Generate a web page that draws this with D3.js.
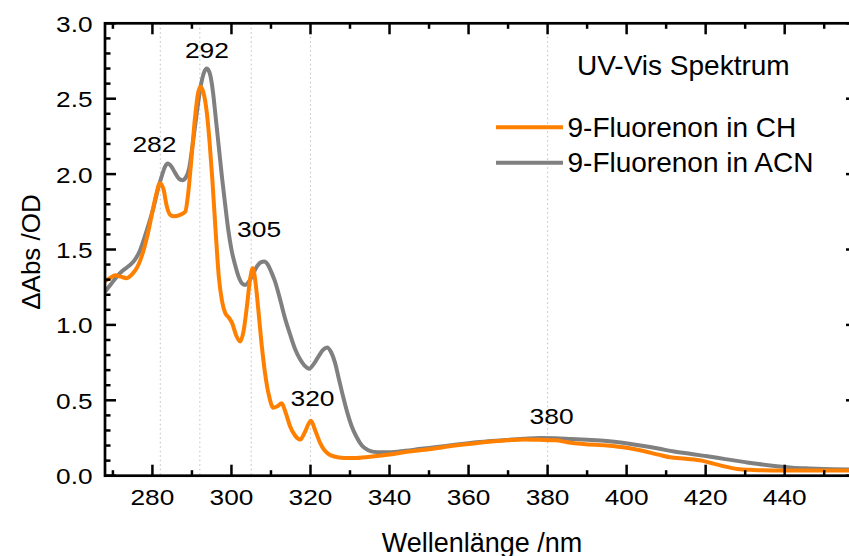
<!DOCTYPE html>
<html>
<head>
<meta charset="utf-8">
<script src="https://cdn.jsdelivr.net/npm/d3@7"></script>
<style>
  html, body { margin: 0; padding: 0; background: #fff; overflow: hidden; }
  svg { display: block; font-family: "Liberation Sans", Arial, sans-serif; }
</style>
</head>
<body>
<svg id="chart" width="849" height="556"></svg>
<script>
// ---- data ----
const wavelengthsCH = [268.0,269.2,270.6,272.0,273.5,275.0,276.3,277.6,278.8,280.0,281.0,281.9,282.8,283.6,284.5,285.5,287.0,288.3,289.0,289.8,290.8,291.5,292.1,292.8,293.8,294.5,295.2,296.0,296.8,297.6,298.4,299.3,300.2,301.2,302.2,303.0,303.9,304.7,305.4,306.1,306.8,307.6,308.5,309.5,310.6,311.6,312.7,313.7,314.8,316.0,317.4,318.6,320.1,321.2,322.4,323.5,324.5,326.0,328.5,331.0,335.0,340.0,345.0,350.0,356.6,360.0,365.0,370.0,374.0,378.0,382.0,385.0,389.0,395.0,400.0,404.0,408.0,411.0,415.0,419.0,422.0,425.0,428.0,432.0,437.0,442.0,450.0,458.3];
const absCH = [1.29,1.31,1.33,1.32,1.31,1.34,1.39,1.48,1.60,1.75,1.87,1.94,1.90,1.79,1.73,1.72,1.73,1.75,1.86,2.08,2.38,2.53,2.58,2.55,2.40,2.20,1.95,1.62,1.32,1.16,1.08,1.05,1.01,0.93,0.89,0.95,1.12,1.30,1.375,1.28,1.10,0.88,0.68,0.53,0.45,0.46,0.48,0.42,0.33,0.27,0.24,0.29,0.365,0.30,0.22,0.17,0.145,0.127,0.118,0.117,0.125,0.14,0.16,0.175,0.20,0.21,0.225,0.235,0.24,0.238,0.235,0.222,0.21,0.20,0.185,0.165,0.14,0.122,0.112,0.10,0.08,0.06,0.045,0.038,0.035,0.035,0.035,0.035];

const wavelengthsACN = [268.0,269.5,271.0,272.5,274.0,275.5,276.8,278.0,279.2,280.3,281.4,282.4,283.2,283.9,284.8,285.7,286.7,287.6,288.5,289.3,290.2,291.2,292.2,293.0,293.8,294.6,295.3,296.0,296.8,297.6,298.4,299.2,300.0,300.9,301.8,302.7,303.5,304.5,305.5,306.5,307.4,308.3,309.2,310.1,311.0,312.3,313.6,314.8,316.1,317.4,318.5,319.7,320.8,322.0,323.2,324.2,325.2,326.2,327.2,328.3,329.3,330.4,331.6,333.0,334.5,336.0,338.0,340.0,344.0,348.0,352.0,356.6,360.0,365.0,369.4,374.0,378.0,382.0,386.0,390.0,395.0,399.0,403.5,408.0,412.0,416.4,420.0,425.0,430.0,433.4,438.0,442.0,446.2,452.0,458.3];
const absACN = [1.22,1.27,1.32,1.36,1.39,1.43,1.49,1.58,1.68,1.78,1.90,1.99,2.05,2.07,2.05,2.01,1.97,1.96,1.98,2.04,2.20,2.40,2.58,2.67,2.70,2.66,2.55,2.38,2.18,1.98,1.80,1.63,1.50,1.40,1.32,1.275,1.265,1.29,1.34,1.39,1.415,1.42,1.40,1.35,1.29,1.17,1.04,0.94,0.84,0.77,0.73,0.71,0.74,0.79,0.835,0.85,0.82,0.75,0.64,0.52,0.42,0.33,0.26,0.20,0.17,0.158,0.155,0.155,0.165,0.178,0.19,0.205,0.215,0.228,0.237,0.245,0.25,0.248,0.243,0.238,0.23,0.218,0.20,0.18,0.16,0.144,0.13,0.11,0.09,0.077,0.062,0.053,0.048,0.043,0.04];

const seriesNames = ["9-Fluorenon in CH", "9-Fluorenon in ACN"];
const seriesColors = ["#FF8000", "#808080"];

const xTickValues = [280,300,320,340,360,380,400,420,440];
const yTickValues = [0.0,0.5,1.0,1.5,2.0,2.5,3.0];

const peakWavelengths = [282, 292, 305, 320, 380];
const peakLabels = ["282", "292", "305", "320", "380"];
const peakLabelAnchorX = [280.5, 293.8, 307.0, 320.5, 381.0];
const peakLabelAnchorY = [2.145, 2.768, 1.581, 0.464, 0.341];

const chartTitle = "UV-Vis Spektrum";
const xTitle = "Wellenlänge /nm";
const yTitle = "\u0394Abs /OD";

// ---- layout ----
const L = 105, R = 857, T = 23.3, B = 475.7;
const svg = d3.select("#chart");
const x = d3.scaleLinear().domain([268.0, 458.3]).range([L, R]);
const y = d3.scaleLinear().domain([0, 3]).range([B, T]);
const stretch = 1.22;

// gridlines (dotted, at peaks)
svg.append("g").selectAll("line").data(peakWavelengths).join("line")
  .attr("x1", d => x(d)).attr("x2", d => x(d))
  .attr("y1", T).attr("y2", B)
  .attr("stroke", "#c4c4c4").attr("stroke-width", 1.1)
  .attr("stroke-dasharray", "1.5,3");

// curves
svg.append("clipPath").attr("id", "clip").append("rect")
  .attr("x", L).attr("y", T - 5).attr("width", R - L).attr("height", B - T + 5);
const line = d3.line().x(d => x(d[0])).y(d => y(d[1])).curve(d3.curveMonotoneX);
const dataCH = wavelengthsCH.map((w, i) => [w, absCH[i]]);
const dataACN = wavelengthsACN.map((w, i) => [w, absACN[i]]);
const gc = svg.append("g").attr("clip-path", "url(#clip)");
gc.append("path").datum(dataACN).attr("d", line).attr("fill", "none")
  .attr("stroke", seriesColors[1]).attr("stroke-width", 4).attr("stroke-linejoin", "round");
gc.append("path").datum(dataCH).attr("d", line).attr("fill", "none")
  .attr("stroke", seriesColors[0]).attr("stroke-width", 4).attr("stroke-linejoin", "round");

// axes frame with inward ticks
const xMinor = d3.range(270, 460, 10);
const yMinor = d3.range(0, 31).map(i => i / 10);
const axisG = svg.append("g").attr("stroke", "#000").attr("stroke-width", 2.5).attr("fill", "none");
const isMajorX = v => Math.abs(v % 20) < 1e-6;
const isMajorY = v => Math.abs(Math.round(v * 10) % 5) === 0;
xMinor.forEach(v => {
  const len = isMajorX(v) ? 11 : 5.5;
  axisG.append("line").attr("x1", x(v)).attr("x2", x(v)).attr("y1", B).attr("y2", B - len);
  axisG.append("line").attr("x1", x(v)).attr("x2", x(v)).attr("y1", T).attr("y2", T + len);
});
yMinor.forEach(v => {
  const len = isMajorY(v) ? 11 : 5.5;
  axisG.append("line").attr("x1", L).attr("x2", L + len).attr("y1", y(v)).attr("y2", y(v));
  axisG.append("line").attr("x1", R).attr("x2", R - len).attr("y1", y(v)).attr("y2", y(v));
});
axisG.append("rect").attr("x", L).attr("y", T).attr("width", R - L).attr("height", B - T)
  .attr("stroke-width", 2.7);

// tick labels (stretched horizontally)
const fmt = d3.format(".1f");
svg.append("g").selectAll("g").data(xTickValues).join("g")
  .attr("transform", d => `translate(${x(d)},505)`)
  .append("text").attr("transform", `scale(${stretch},1)`)
  .attr("text-anchor", "middle").attr("font-size", 21.5).attr("fill", "#000")
  .text(d => d);
svg.append("g").selectAll("g").data(yTickValues).join("g")
  .attr("transform", d => `translate(92.5,${y(d) + 8.4})`)
  .append("text").attr("transform", `scale(${stretch},1)`)
  .attr("text-anchor", "end").attr("font-size", 21.5).attr("fill", "#000")
  .text(d => fmt(d));

// peak labels
svg.append("g").selectAll("g").data(peakLabels).join("g")
  .attr("transform", (d, i) => `translate(${x(peakLabelAnchorX[i])},${y(peakLabelAnchorY[i])})`)
  .append("text").attr("transform", `scale(1.2,1)`)
  .attr("text-anchor", "middle").attr("font-size", 22).attr("fill", "#000")
  .text(d => d);

// axis titles
svg.append("text").attr("x", 482).attr("y", 551.5).attr("text-anchor", "middle")
  .attr("font-size", 27).attr("fill", "#000").text(xTitle);
svg.append("text").attr("transform", "translate(40,252) rotate(-90)")
  .attr("text-anchor", "middle").attr("font-size", 26).attr("fill", "#000").text(yTitle);

// legend
svg.append("text").attr("x", 577).attr("y", 75).attr("font-size", 28).attr("fill", "#000").text(chartTitle);
const legendY = [127.3, 162.7];
const lg = svg.append("g");
seriesNames.forEach((name, i) => {
  lg.append("line").attr("x1", 496).attr("x2", 563).attr("y1", legendY[i]).attr("y2", legendY[i])
    .attr("stroke", seriesColors[i]).attr("stroke-width", 4);
  lg.append("text").attr("x", 567.5).attr("y", legendY[i] + 9.4).attr("font-size", 28)
    .attr("fill", "#000").text(name);
});
</script>
</body>
</html>
